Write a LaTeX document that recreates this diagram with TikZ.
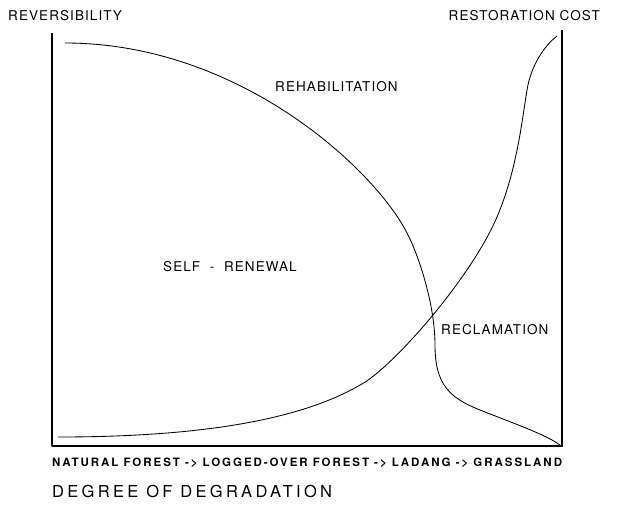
\documentclass[tikz,border=0pt]{standalone}
\usepackage{fontspec}
\setmainfont{TeX Gyre Heros}
\newfontfamily\plotfont[LetterSpace=8]{TeX Gyre Heros}
\newfontfamily\stagefont[LetterSpace=17]{TeX Gyre Heros}
\newfontfamily\widefont[LetterSpace=20]{TeX Gyre Heros}
\usepackage{tikz}
\usetikzlibrary{positioning}

\begin{document}
\begin{tikzpicture}[
    x=1pt, y=-1pt, line join=round,
    axis/.style={line width=1.1pt},
    curve/.style={line width=0.85pt},
    lbl/.style={font=\plotfont\fontsize{13.5}{15}\selectfont, inner sep=0pt},
    stage/.style={font=\stagefont\bfseries\fontsize{11.5}{13}\selectfont, inner sep=0pt},
    big/.style={font=\widefont\fontsize{16.5}{18}\selectfont, inner sep=0pt}]
  \useasboundingbox (0,0) rectangle (623,504);
  % axes
  \coordinate (o) at (52,446);
  \coordinate (ytop) at (52,33);
  \coordinate (xend) at (563,446);
  \coordinate (ctop) at (562,30);
  \draw[axis] (ytop) -- (o) -- (xend);
  \draw[axis] (ctop) -- (562,446);
  % labels
  \node[lbl, anchor=west] (rev) at (8,16) {REVERSIBILITY};
  \node[lbl, anchor=east] (cost) at (600,16) {RESTORATION COST};
  \node[lbl, anchor=west] (rehab) at (275,87) {REHABILITATION};
  \node[lbl, anchor=west] (self) at (163,267) {SELF \ - \ RENEWAL};
  \node[lbl, anchor=west] (recl) at (441,330) {RECLAMATION};
  \node[stage, anchor=west] (stages) at (52,463) {NATURAL FOREST -{}> LOGGED-OVER FOREST -{}> LADANG -{}> GRASSLAND};
  \node[big, anchor=west] (degr) at (52,491) {DEGREE OF DEGRADATION};
  % reversibility
  \coordinate (r0) at (65,43);
  \coordinate (r2) at (407,233);
  \coordinate (r3) at (435,345);
  \coordinate (r4) at (480,410);
  \draw[curve] (r0) .. controls (240,43) and (375,170) .. (r2)
    .. controls (419,256) and (435,305) .. (r3)
    .. controls (435,385) and (450,398) .. (r4)
    .. controls (510,422) and (550,436) .. (561,446);
  % restoration cost
  \coordinate (c0) at (58,437);
  \coordinate (c1) at (360,385);
  \coordinate (c2) at (497,217);
  \coordinate (c3) at (527,90);
  \draw[curve] (c0) .. controls (200,437) and (300,420) .. (c1)
    .. controls (390,370) and (470,280) .. (c2)
    .. controls (517,170) and (522,120) .. (c3)
    .. controls (531,65) and (545,45) .. (557,36);
\end{tikzpicture}
\end{document}
